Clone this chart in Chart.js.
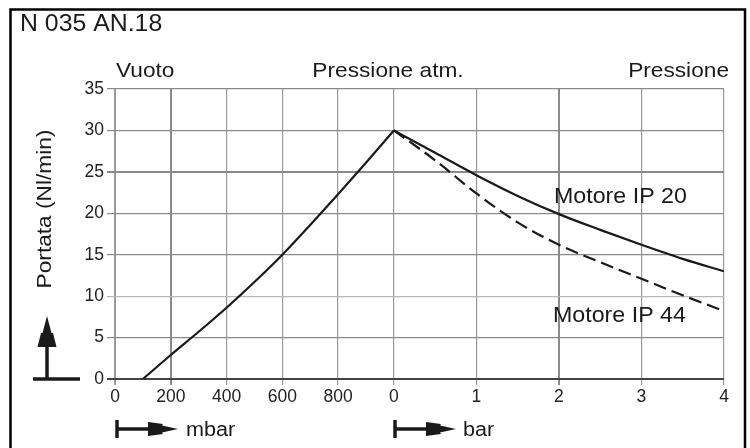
<!DOCTYPE html>
<html>
<head>
<meta charset="utf-8">
<script src="https://cdn.jsdelivr.net/npm/chart.js@4.4.1/dist/chart.umd.min.js"></script>
<style>
  html, body { margin: 0; padding: 0; background: #fff; }
  #wrap { width: 750px; height: 448px; }
</style>
</head>
<body>
<div id="wrap"><canvas id="c" width="750" height="448"></canvas></div>
<script>
'use strict';

// ─── Data ────────────────────────────────────────────────────────────────────
// Vacuum side: absolute pressure in mbar vs flow
const VAC_MBAR  = [100, 200, 300, 400, 500, 600, 700, 800, 900, 1000];
const VAC_FLOW  = [0, 2.9, 5.7, 8.6, 11.7, 15, 18.6, 22.3, 26.1, 30];
// Pressure side: bar vs flow for both motors
const BAR_P     = [0, 0.5, 1, 1.5, 2, 2.5, 3, 3.5, 4];
const IP20_FLOW = [30, 27.3, 24.6, 22.1, 19.9, 18, 16.2, 14.5, 13];
const IP44_FLOW = [30, 26.4, 22.4, 18.9, 16.2, 14.1, 12.1, 10.1, 8.2];

const X_TICK_LABELS = ['0', '200', '400', '600', '800', '0', '1', '2', '3', '4'];
const Y_MAX = 35;

// ─── Split x axis: 200 mbar = 1 unit, 1 bar = BAR_UNIT units ─────────────────
const BAR_UNIT = 1.48;
const xVac = m => m / 200;
const xBar = b => 5 + b * BAR_UNIT;
const X_TICK_POS = [0, 200, 400, 600, 800].map(xVac).concat([0, 1, 2, 3, 4].map(xBar));

const FONT = '"Liberation Sans", Arial, sans-serif';
const INK  = '#1a1a1a';
const STRETCH = 1.08;   // the scanned lettering is a bit wider than Arial

// ─── Decorations drawn on top (frame, captions, arrows) ─────────────────────
function label(ctx, text, x, y, align, rot = 0) {
  ctx.save();
  ctx.translate(x, y);
  if (rot) ctx.rotate(rot);
  ctx.scale(STRETCH, 1);
  ctx.textAlign = align;
  ctx.fillText(text, 0, 0);
  ctx.restore();
}

function arrowRight(ctx, x, y) {
  ctx.fillStyle = INK; ctx.strokeStyle = INK;
  ctx.lineWidth = 3.5;
  ctx.beginPath(); ctx.moveTo(x, y - 9); ctx.lineTo(x, y + 9); ctx.stroke();
  ctx.beginPath(); ctx.moveTo(x, y); ctx.lineTo(x + 36, y); ctx.stroke();
  ctx.beginPath();
  ctx.moveTo(x + 31, y - 7); ctx.lineTo(x + 46, y - 5); ctx.lineTo(x + 45, y - 3.5);
  ctx.lineTo(x + 61, y);
  ctx.lineTo(x + 45, y + 3.5); ctx.lineTo(x + 46, y + 5); ctx.lineTo(x + 31, y + 7);
  ctx.closePath(); ctx.fill();
}

function arrowUp(ctx, x, y) {
  ctx.fillStyle = INK; ctx.strokeStyle = INK;
  ctx.lineWidth = 3.5;
  ctx.beginPath(); ctx.moveTo(x - 14, y); ctx.lineTo(x + 33, y); ctx.stroke();
  ctx.beginPath(); ctx.moveTo(x, y); ctx.lineTo(x, y - 38); ctx.stroke();
  ctx.beginPath();
  ctx.moveTo(x - 9.5, y - 32); ctx.lineTo(x - 6, y - 46); ctx.lineTo(x - 4.5, y - 46);
  ctx.lineTo(x, y - 63);
  ctx.lineTo(x + 4.5, y - 46); ctx.lineTo(x + 6, y - 46); ctx.lineTo(x + 9.5, y - 32);
  ctx.closePath(); ctx.fill();
}

const decor = {
  id: 'decor',
  beforeDraw(chart) {
    const ctx = chart.ctx;
    ctx.save();
    ctx.fillStyle = '#fff';
    ctx.fillRect(0, 0, chart.width, chart.height);
    ctx.restore();
  },
  afterDraw(chart) {
    const ctx = chart.ctx;
    ctx.save();

    // outer frame
    ctx.strokeStyle = '#000'; ctx.lineWidth = 2.5;
    ctx.beginPath();
    ctx.moveTo(10.5, 452); ctx.lineTo(10.5, 9.5); ctx.lineTo(745, 9.5); ctx.lineTo(745, 452);
    ctx.stroke();

    ctx.fillStyle = INK; ctx.textBaseline = 'middle';
    ctx.font = `23px ${FONT}`;
    label(ctx, 'N 035 AN.18', 20, 25, 'left');

    ctx.font = `21px ${FONT}`;
    label(ctx, 'Vuoto', 116, 71, 'left');
    label(ctx, 'Pressione atm.', 388, 71, 'center');
    label(ctx, 'Pressione', 729, 71, 'right');

    ctx.font = `21.5px ${FONT}`;
    label(ctx, 'Motore IP 20', 554, 197, 'left');
    label(ctx, 'Motore IP 44', 553, 316, 'left');

    ctx.font = `21px ${FONT}`;
    label(ctx, 'Portata (Nl/min)', 45, 209, 'center', -Math.PI / 2);

    ctx.font = `20px ${FONT}`;
    label(ctx, 'mbar', 186, 430, 'left');
    label(ctx, 'bar', 463, 430, 'left');

    arrowRight(ctx, 117, 429);
    arrowRight(ctx, 395, 429);
    arrowUp(ctx, 47, 379);

    ctx.restore();
  },
};

// ─── Chart ───────────────────────────────────────────────────────────────────
const toPts = (xs, ys, f) => xs.map((v, i) => ({ x: f(v), y: ys[i] }));

const lineBase = {
  showLine: true, pointRadius: 0, borderWidth: 2.2, borderColor: INK,
  tension: 0.4, cubicInterpolationMode: 'monotone', fill: false,
};

new Chart(document.getElementById('c'), {
  type: 'scatter',
  data: {
    datasets: [
      { ...lineBase, label: 'Vuoto', data: toPts(VAC_MBAR, VAC_FLOW, xVac) },
      { ...lineBase, label: 'Motore IP 20', data: toPts(BAR_P, IP20_FLOW, xBar) },
      { ...lineBase, label: 'Motore IP 44', data: toPts(BAR_P, IP44_FLOW, xBar), borderDash: [13, 6] },
    ],
  },
  options: {
    responsive: false,
    animation: false,
    events: [],
    layout: { padding: { top: 89, right: 26, left: 0, bottom: 0 } },
    plugins: { legend: { display: false }, tooltip: { enabled: false } },
    scales: {
      x: {
        type: 'linear', min: 0, max: xBar(4),
        afterBuildTicks: s => { s.ticks = X_TICK_POS.map(v => ({ value: v })); },
        afterFit: s => { s.height = 69; },
        ticks: {
          autoSkip: false, maxRotation: 0, padding: 2, color: '#222',
          font: { family: FONT, size: 17.5 },
          callback: (v, i) => X_TICK_LABELS[i],
        },
        grid: {
          tickLength: 6,
          color: c => (c.index === 1 || c.index === 7) ? '#8a8a8a' : '#9a9a9a',
          lineWidth: c => (c.index === 1 || c.index === 7 || c.index === 0) ? 2 : 1.2,
        },
        border: { display: false },
      },
      y: {
        min: 0, max: Y_MAX,
        afterFit: s => { s.width = 115; },
        ticks: {
          stepSize: 5, padding: 3, color: '#222',
          font: { family: FONT, size: 17.5 },
        },
        grid: {
          tickLength: 8,
          color: c => c.tick.value === 10 ? '#b8b8b8' : (c.tick.value === 0 ? '#444' : '#8a8a8a'),
          lineWidth: c => (c.tick.value === 25 || c.tick.value === 0) ? 2 : 1.2,
        },
        border: { display: false },
      },
    },
  },
  plugins: [decor],
});
</script>
</body>
</html>
